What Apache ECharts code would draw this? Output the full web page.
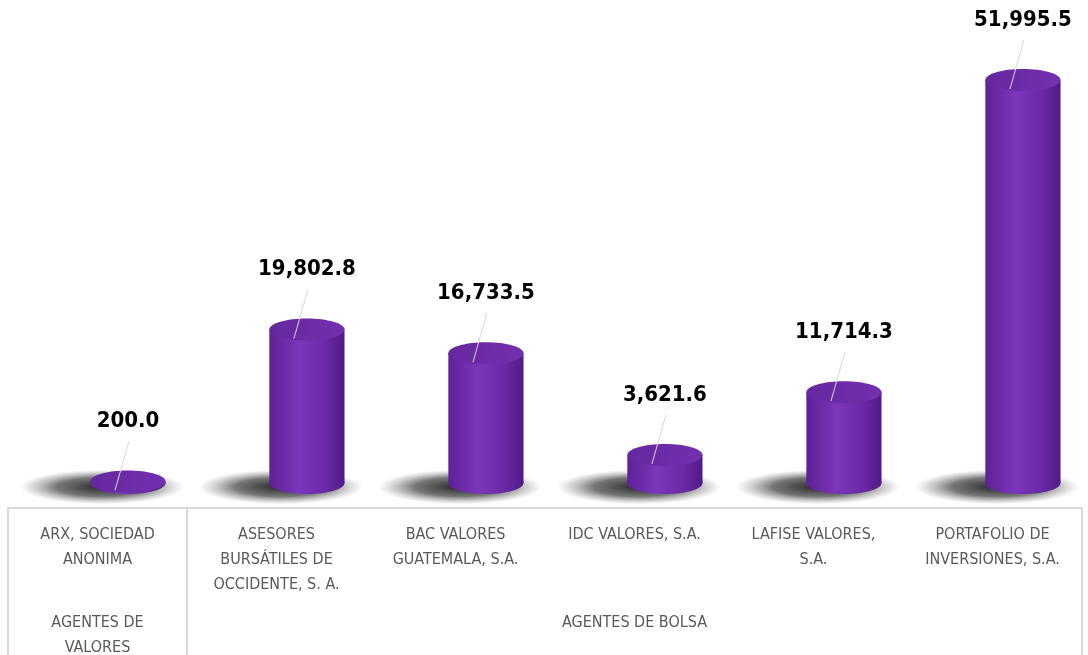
<!DOCTYPE html>
<html>
<head>
    <meta charset="utf-8">
    <script src="https://cdn.jsdelivr.net/npm/echarts@6/dist/echarts.min.js"></script>
</head>
<body style="margin:0;background:#fff">
    <div id="main" style="width:1088px;height:655px"></div>

    <script type="text/javascript">
        // categorias y montos
        var categorias = [
            'ARX, SOCIEDAD\nANONIMA',
            'ASESORES\nBURSÁTILES DE\nOCCIDENTE, S. A.',
            'BAC VALORES\nGUATEMALA, S.A.',
            'IDC VALORES, S.A.',
            'LAFISE VALORES,\nS.A.',
            'PORTAFOLIO DE\nINVERSIONES, S.A.'
        ];
        var montos = [200.0, 19802.8, 16733.5, 3621.6, 11714.3, 51995.5];
        // grupos: nombre y limites (en indices de categoria)
        var grupos = ['AGENTES DE\nVALORES', 'AGENTES DE BOLSA'];
        var limitesGrupos = [0, 1, 6];

        var fuente = '"DejaVu Sans Condensed", "DejaVu Sans", sans-serif';
        var myChart = echarts.init(document.getElementById('main'));

        function fmt(v) {
            return v.toLocaleString('en-US', {minimumFractionDigits: 1, maximumFractionDigits: 1});
        }

        var renderCilindro = function (params, api) {
            var i = api.value(0);
            var v = api.value(1);
            var banda = api.size([1, 0])[0];
            var base = api.coord([i, 0]);
            var tope = api.coord([i, v]);
            var cx = base[0] + banda * 0.17;
            var w = banda * 0.42;
            var ry = 11;
            var y0 = base[1];
            var yt = tope[1];
            var cuerpo = new echarts.graphic.LinearGradient(0, 0, 1, 0, [
                {offset: 0, color: '#5e2195'},
                {offset: 0.4, color: '#7c36bb'},
                {offset: 0.75, color: '#6a29a7'},
                {offset: 1, color: '#511a84'}
            ]);
            var tapa = new echarts.graphic.LinearGradient(0, 0, 1, 1, [
                {offset: 0, color: '#65279e'},
                {offset: 1, color: '#7430b0'}
            ]);
            var sombra = new echarts.graphic.RadialGradient(0.5, 0.5, 0.5, [
                {offset: 0, color: 'rgba(25,25,25,0.95)'},
                {offset: 0.55, color: 'rgba(60,60,60,0.7)'},
                {offset: 1, color: 'rgba(120,120,120,0)'}
            ]);
            return {
                type: 'group',
                children: [{
                    type: 'circle',
                    x: cx - 26, y: y0 + 4,
                    scaleY: 0.21,
                    shape: {cx: 0, cy: 0, r: 82},
                    style: {fill: sombra}
                }, {
                    type: 'ellipse',
                    shape: {cx: cx, cy: y0, rx: w / 2, ry: ry},
                    style: {fill: cuerpo}
                }, {
                    type: 'rect',
                    shape: {x: cx - w / 2, y: yt, width: w, height: y0 - yt},
                    style: {fill: cuerpo}
                }, {
                    type: 'ellipse',
                    shape: {cx: cx, cy: yt, rx: w / 2, ry: ry},
                    style: {fill: tapa}
                }, {
                    type: 'line',
                    shape: {x1: cx + 1, y1: yt - 40, x2: cx - 13, y2: yt + 9},
                    style: {stroke: '#ddd6e4', lineWidth: 1}
                }, {
                    type: 'text',
                    style: {
                        text: fmt(v), x: cx, y: yt - 60,
                        textAlign: 'center', textVerticalAlign: 'middle',
                        fontFamily: fuente, fontWeight: 'bold', fontSize: 22, fill: '#000'
                    }
                }]
            };
        };

        var option = {
            animation: false,
            backgroundColor: '#fff',
            grid: {left: 8, right: 6, top: 80, bottom: 172, outerBoundsMode: 'none', containLabel: false},
            xAxis: [{
                type: 'category',
                data: categorias,
                position: 'bottom',
                offset: 25,
                axisLine: {show: true, onZero: false, lineStyle: {color: '#d9d9d9', width: 2}},
                axisTick: {show: false},
                axisLabel: {
                    interval: 0, margin: 14, color: '#595959',
                    fontFamily: fuente, fontSize: 16, lineHeight: 25,
                    verticalAlign: 'top'
                }
            }, {
                type: 'value',
                min: 0, max: 6,
                position: 'bottom',
                offset: 25,
                splitLine: {show: false},
                axisLine: {show: false, onZero: false},
                axisTick: {show: true, customValues: limitesGrupos, length: 150, lineStyle: {color: '#d9d9d9', width: 2}},
                axisLabel: {
                    customValues: [0.5, 3.5],
                    formatter: function (v) { return v < 1 ? grupos[0] : grupos[1]; },
                    margin: 102, color: '#595959',
                    fontFamily: fuente, fontSize: 16, lineHeight: 25,
                    verticalAlign: 'top'
                }
            }],
            yAxis: {type: 'value', min: 0, max: 52000, show: false},
            series: [{
                type: 'custom',
                renderItem: renderCilindro,
                encode: {x: 0, y: 1},
                data: montos.map(function (v, i) { return [i, v]; }),
                clip: false
            }]
        };

        myChart.setOption(option);
    </script>
</body>
</html>
